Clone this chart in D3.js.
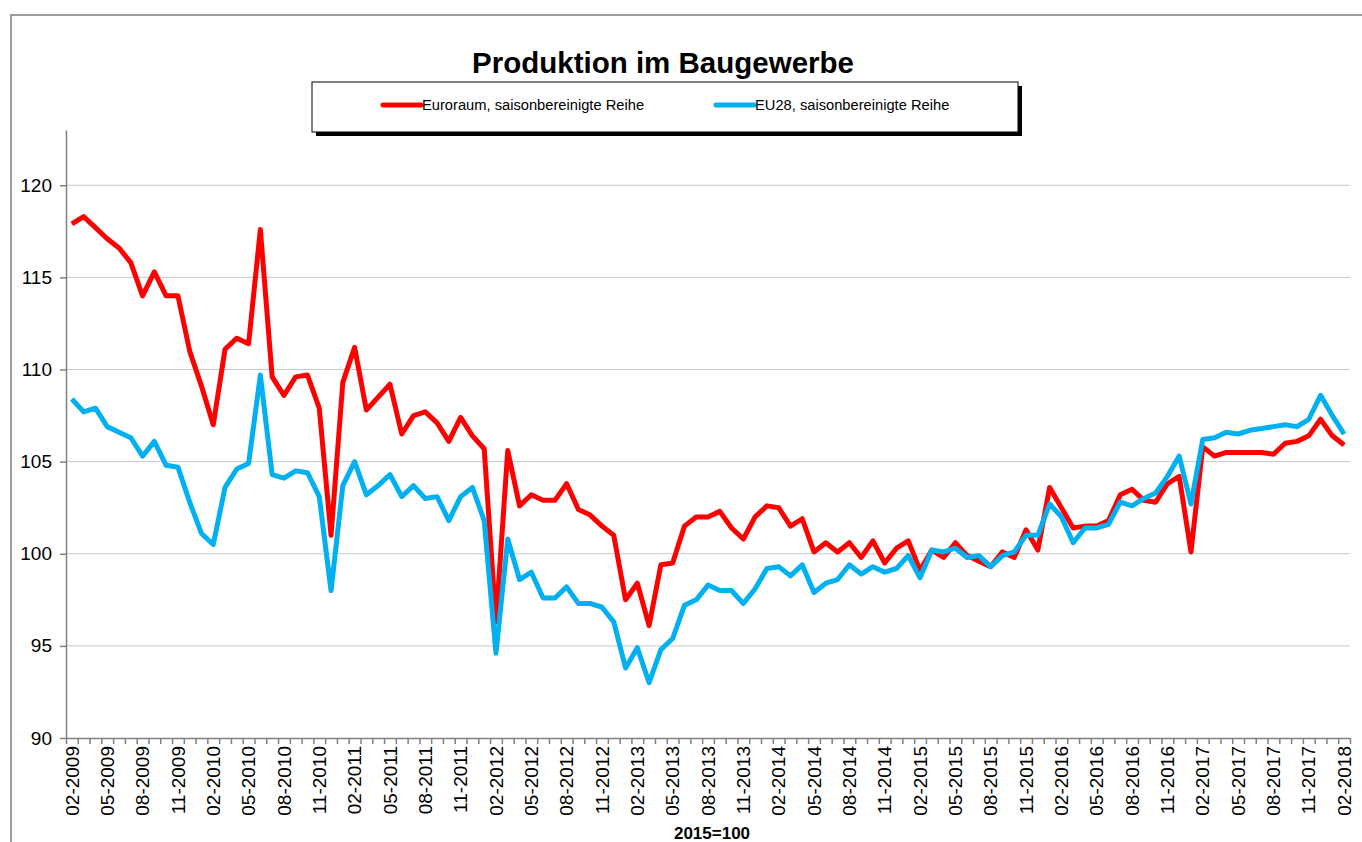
<!DOCTYPE html>
<html>
<head>
<meta charset="utf-8">
<title>Produktion im Baugewerbe</title>
<script src="https://d3js.org/d3.v7.min.js"></script>
<style>
  body { margin: 0; background: #fff; }
  svg text { font-family: "Liberation Sans", Arial, sans-serif; }
</style>
</head>
<body>
<script type="text/javascript">
// monthly categories 02-2009 .. 02-2018
var months = [];
for (var m = 0; m < 109; m++) {
  var mm = (1 + m) % 12 + 1;
  var yy = 2009 + Math.floor((1 + m) / 12);
  months.push((mm < 10 ? "0" : "") + mm + "-" + yy);
}

var euroraum = [117.9, 118.3, 117.7, 117.1, 116.6, 115.8, 114.0, 115.3, 114.0, 114.0,
  111.0, 109.1, 107.0, 111.1, 111.7, 111.4, 117.6, 109.6, 108.6, 109.6,
  109.7, 107.9, 101.0, 109.3, 111.2, 107.8, 108.5, 109.2, 106.5, 107.5,
  107.7, 107.1, 106.1, 107.4, 106.4, 105.7, 96.3, 105.6, 102.6, 103.2,
  102.9, 102.9, 103.8, 102.4, 102.1, 101.5, 101.0, 97.5, 98.4, 96.1,
  99.4, 99.5, 101.5, 102.0, 102.0, 102.3, 101.4, 100.8, 102.0, 102.6,
  102.5, 101.5, 101.9, 100.1, 100.6, 100.1, 100.6, 99.8, 100.7, 99.5,
  100.3, 100.7, 99.1, 100.2, 99.8, 100.6, 99.9, 99.6, 99.3, 100.1,
  99.8, 101.3, 100.2, 103.6, 102.5, 101.4, 101.5, 101.5, 101.8, 103.2,
  103.5, 102.9, 102.8, 103.8, 104.2, 100.1, 105.8, 105.3, 105.5, 105.5,
  105.5, 105.5, 105.4, 106.0, 106.1, 106.4, 107.3, 106.4, 105.9];

var eu28 = [108.4, 107.7, 107.9, 106.9, 106.6, 106.3, 105.3, 106.1, 104.8, 104.7,
  102.8, 101.1, 100.5, 103.6, 104.6, 104.9, 109.7, 104.3, 104.1, 104.5,
  104.4, 103.1, 98.0, 103.7, 105.0, 103.2, 103.7, 104.3, 103.1, 103.7,
  103.0, 103.1, 101.8, 103.1, 103.6, 101.8, 94.6, 100.8, 98.6, 99.0,
  97.6, 97.6, 98.2, 97.3, 97.3, 97.1, 96.3, 93.8, 94.9, 93.0,
  94.8, 95.4, 97.2, 97.5, 98.3, 98.0, 98.0, 97.3, 98.1, 99.2,
  99.3, 98.8, 99.4, 97.9, 98.4, 98.6, 99.4, 98.9, 99.3, 99.0,
  99.2, 99.9, 98.7, 100.2, 100.1, 100.3, 99.8, 99.9, 99.3, 99.9,
  100.1, 101.0, 101.0, 102.7, 102.0, 100.6, 101.4, 101.4, 101.6, 102.8,
  102.6, 103.0, 103.3, 104.2, 105.3, 102.7, 106.2, 106.3, 106.6, 106.5,
  106.7, 106.8, 106.9, 107.0, 106.9, 107.3, 108.6, 107.5, 106.5];

var seriesNames = ["Euroraum, saisonbereinigte Reihe", "EU28, saisonbereinigte Reihe"];
var seriesColors = ["#ff0000", "#00b0f0"];
var yTicks = [90, 95, 100, 105, 110, 115, 120];

var W = 1362, H = 842;
var plot = {left: 66, right: 1350, top: 130, bottom: 738};

var svg = d3.select("body").append("svg")
    .attr("width", W).attr("height", H);

// chart area frame (runs off the picture)
svg.append("rect")
    .attr("x", 11).attr("y", 15)
    .attr("width", W + 20).attr("height", H + 20)
    .attr("fill", "#fff").attr("stroke", "#7f7f7f").attr("stroke-width", 1.5);

var x = d3.scalePoint().domain(months).range([plot.left, plot.right]).padding(0.5);
var xEdge = d3.scaleLinear().domain([0, months.length]).range([plot.left, plot.right]);
var y = d3.scaleLinear().domain([90, 123]).range([plot.bottom, plot.top]);

// gridlines
svg.append("g").selectAll("line")
    .data(yTicks.filter(function(d){ return d > 90; }))
    .enter().append("line")
    .attr("x1", plot.left).attr("x2", plot.right)
    .attr("y1", function(d){ return y(d); })
    .attr("y2", function(d){ return y(d); })
    .attr("stroke", "#c8c8c8").attr("stroke-width", 1);

// y axis
var yAxis = svg.append("g")
    .attr("transform", "translate(" + plot.left + ",0)")
    .call(d3.axisLeft(y).tickValues(yTicks).tickSize(6).tickSizeOuter(0).tickPadding(8));
yAxis.selectAll("text").attr("font-size", 19).attr("fill", "#000")
    .style("font-family", "'Liberation Sans', Arial, sans-serif");
yAxis.selectAll("line, path").attr("stroke", "#808080").attr("stroke-width", 1.5);

// x axis: tick marks between months
var xAxis = svg.append("g")
    .attr("transform", "translate(0," + plot.bottom + ")")
    .call(d3.axisBottom(xEdge).tickValues(d3.range(months.length + 1))
        .tickFormat("").tickSize(6).tickSizeOuter(0));
xAxis.selectAll("line, path").attr("stroke", "#808080").attr("stroke-width", 1.5);

// x labels, every third month
svg.append("g").selectAll("text")
    .data(months.filter(function(d, i){ return i % 3 === 0; }))
    .enter().append("text")
    .attr("transform", function(d){ return "translate(" + x(d) + "," + (plot.bottom + 8) + ") rotate(-90)"; })
    .attr("text-anchor", "end")
    .attr("dy", "0.35em")
    .attr("font-size", 19)
    .attr("fill", "#000")
    .text(function(d){ return d; });

// lines
var line = d3.line()
    .x(function(d, i){ return x(months[i]); })
    .y(function(d){ return y(d); });

[euroraum, eu28].forEach(function(s, k) {
  svg.append("path")
    .datum(s)
    .attr("d", line)
    .attr("fill", "none")
    .attr("stroke", seriesColors[k])
    .attr("stroke-width", 5)
    .attr("stroke-linejoin", "round");
});

// title
svg.append("text")
    .attr("x", 663).attr("y", 73)
    .attr("text-anchor", "middle")
    .attr("font-size", 29.5).attr("font-weight", "bold")
    .text("Produktion im Baugewerbe");

// legend with shadow
var lg = svg.append("g");
lg.append("rect").attr("x", 316).attr("y", 86).attr("width", 706).attr("height", 50).attr("fill", "#000");
lg.append("rect").attr("x", 312).attr("y", 82).attr("width", 706).attr("height", 50)
    .attr("fill", "#fff").attr("stroke", "#000").attr("stroke-width", 1);
var legX = [383, 716];
seriesNames.forEach(function(name, k) {
  lg.append("line")
    .attr("x1", legX[k]).attr("x2", legX[k] + 38)
    .attr("y1", 105).attr("y2", 105)
    .attr("stroke", seriesColors[k]).attr("stroke-width", 5).attr("stroke-linecap", "round");
  lg.append("text")
    .attr("x", legX[k] + 39).attr("y", 110)
    .attr("font-size", 14.7)
    .text(name);
});

// base note
svg.append("text")
    .attr("x", 712).attr("y", 839)
    .attr("text-anchor", "middle")
    .attr("font-size", 17).attr("font-weight", "bold")
    .text("2015=100");
</script>
</body>
</html>
